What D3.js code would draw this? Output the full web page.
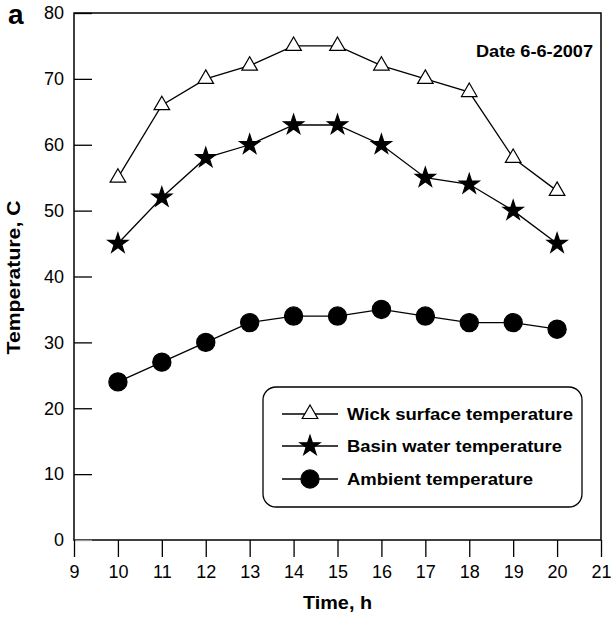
<!DOCTYPE html>
<html><head><meta charset="utf-8">
<script src="https://cdn.jsdelivr.net/npm/d3@7"></script>
<style>body{margin:0;background:#fff}svg{display:block}text{font-family:"Liberation Sans",Arial,sans-serif}</style>
</head><body>
<svg id="c" width="611" height="618"></svg>
<script>
const hours = [10,11,12,13,14,15,16,17,18,19,20];
const wick = [55,66,70,72,75,75,72,70,68,58,53];
const basin = [45,52,58,60,63,63,60,55,54,50,45];
const ambient = [24,27,30,33,34,34,35,34,33,33,32];
const xTicks = [9,10,11,12,13,14,15,16,17,18,19,20,21];
const yTicks = [0,10,20,30,40,50,60,70,80];
const seriesNames = ["Wick surface temperature","Basin water temperature","Ambient temperature"];

const svg = d3.select("#c");
const L=74, R=601, T=13, B=540;
const x = d3.scaleLinear().domain([9,21]).range([L,R]);
const y = d3.scaleLinear().domain([0,80]).range([B,T]);

// frame
svg.append("rect").attr("x",L).attr("y",T).attr("width",R-L).attr("height",B-T)
  .attr("fill","none").attr("stroke","#000").attr("stroke-width",1.5);

// y ticks inward
const ya = svg.append("g").attr("transform",`translate(${L},0)`)
  .call(d3.axisLeft(y).tickValues(yTicks).tickSize(-18).tickPadding(10).tickFormat(d3.format("d")));
ya.select(".domain").remove();
ya.selectAll("line").attr("stroke","#000").attr("stroke-width",1.3);
ya.selectAll("line").filter(d=>d===0).attr("stroke","#999");
ya.selectAll("text").attr("font-size",18).attr("fill","#000").attr("font-family","Liberation Sans, Arial, sans-serif");

// x ticks outward
const xa = svg.append("g").attr("transform",`translate(0,${B})`)
  .call(d3.axisBottom(x).tickValues(xTicks).tickSize(17).tickPadding(8).tickFormat(d3.format("d")));
xa.select(".domain").remove();
xa.selectAll("line").attr("stroke","#000").attr("stroke-width",1.3);
xa.selectAll("text").attr("font-size",18).attr("fill","#000").attr("font-family","Liberation Sans, Arial, sans-serif");

// titles
svg.append("text").attr("x",(L+R)/2).attr("y",609).attr("text-anchor","middle")
  .attr("font-size",18).attr("font-weight","bold")
  .attr("textLength",69).attr("lengthAdjust","spacingAndGlyphs").text("Time, h");
svg.append("text").attr("transform",`translate(20,${(T+B)/2+1}) rotate(-90)`).attr("text-anchor","middle")
  .attr("font-size",18).attr("font-weight","bold")
  .attr("textLength",154).attr("lengthAdjust","spacingAndGlyphs").text("Temperature, C");
svg.append("text").attr("x",8).attr("y",24).attr("font-size",28).attr("font-weight","bold").text("a");
svg.append("text").attr("x",593).attr("y",57).attr("text-anchor","end")
  .attr("font-size",17).attr("font-weight","bold")
  .attr("textLength",117).attr("lengthAdjust","spacingAndGlyphs").text("Date 6-6-2007");

const line = d3.line().x((d,i)=>x(hours[i])).y(d=>y(d));
const tri = d3.symbol().type(d3.symbolTriangle).size(105);
const star = d3.symbol().type(d3.symbolStar).size(125);
const circ = d3.symbol().type(d3.symbolCircle).size(260);
const defs = [
  {vals:wick, sym:tri, fill:"#fff"},
  {vals:basin, sym:star, fill:"#000"},
  {vals:ambient, sym:circ, fill:"#000"}
];
defs.forEach(s=>{
  svg.append("path").attr("d",line(s.vals)).attr("fill","none").attr("stroke","#000").attr("stroke-width",1.3);
  svg.append("g").selectAll("path").data(s.vals).join("path")
    .attr("transform",(d,i)=>`translate(${x(hours[i])},${y(d)})`)
    .attr("d",s.sym()).attr("fill",s.fill).attr("stroke","#000").attr("stroke-width",1.2);
});

// legend
const lg = svg.append("g");
lg.append("rect").attr("x",263).attr("y",387).attr("width",319).attr("height",120).attr("rx",13)
  .attr("fill","#fff").attr("stroke","#000").attr("stroke-width",1.3);
const rowsY=[414,446,479];
const textW=[226,215,186];
defs.forEach((s,i)=>{
  const g = lg.append("g").attr("transform",`translate(0,${rowsY[i]})`);
  g.append("line").attr("x1",282).attr("x2",338).attr("y1",0).attr("y2",0).attr("stroke","#000").attr("stroke-width",1.3);
  g.append("path").attr("transform","translate(310,0)").attr("d",s.sym()).attr("fill",s.fill).attr("stroke","#000").attr("stroke-width",1.2);
  g.append("text").attr("x",347).attr("y",6).attr("font-size",17).attr("font-weight","bold")
    .attr("textLength",textW[i]).attr("lengthAdjust","spacingAndGlyphs").text(seriesNames[i]);
});
</script>
</body></html>
